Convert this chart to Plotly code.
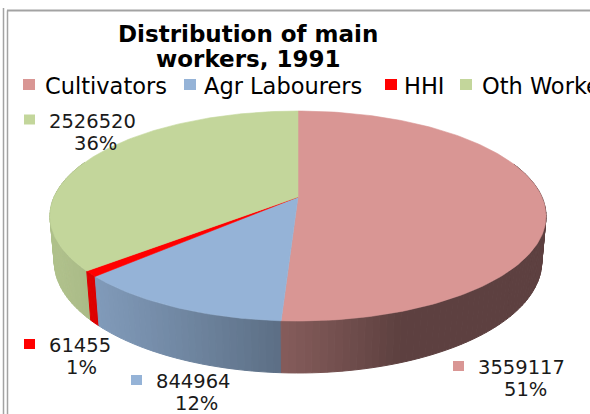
import numpy as np
import plotly.graph_objects as go

# ---- data -------------------------------------------------------------
categories = ["Cultivators", "Agr Labourers", "HHI", "Oth Workers"]
workers = [3559117, 844964, 61455, 2526520]
slice_colors = ["#D99694", "#95B3D7", "#FF0000", "#C3D69B"]
title_lines = ["Distribution of main", "workers, 1991"]

# ---- canvas -----------------------------------------------------------
W, H = 590, 414
FONT = "DejaVu Sans"

# ---- 3-D pie camera (pixel space) --------------------------------------
CX, CY = 298.0, 197.0        # screen position of the pie centre
FOCAL = 1225.0
TILT = np.radians(24.6)
DIST = 5.022
THICK = 0.2055               # disc thickness, in radii
SIN_T, COS_T = np.sin(TILT), np.cos(TILT)


def project(u, v, depth=0.0):
    """Perspective projection of a point on the unit disc (u right, v away)."""
    yc = v * SIN_T - depth * COS_T
    zc = DIST + v * COS_T + depth * SIN_T
    return CX + FOCAL * u / zc, CY - FOCAL * yc / zc


def hex_rgb(h):
    h = h.lstrip("#")
    return [int(h[i:i + 2], 16) for i in (0, 2, 4)]


def shade(h, k):
    r, g, b = (min(255, int(round(c * k))) for c in hex_rgb(h))
    return f"rgb({r},{g},{b})"


def side_light(theta):
    # ambient + diffuse light coming from the front-left
    return 0.43 + 0.47 * max(0.0, np.cos(theta - np.radians(250)))


total = float(sum(workers))
fractions = [w / total for w in workers]
bounds = np.concatenate([[0.0], np.cumsum(fractions)]) * 2 * np.pi

fig = go.Figure()

# ---- outer side wall, split into thin strips for the lighting gradient --
strips = []
for i, col in enumerate(slice_colors):
    t0, t1 = bounds[i], bounds[i + 1]
    n = max(2, int(np.ceil((t1 - t0) / np.radians(1.5))))
    ts = np.linspace(t0, t1, n + 1)
    for a, b in zip(ts[:-1], ts[1:]):
        mid = 0.5 * (a + b)
        if np.cos(mid) > 0.35:
            continue
        arc = np.linspace(a, b, 4)
        xt, yt = project(np.sin(arc), np.cos(arc), 0.0)
        xb, yb = project(np.sin(arc[::-1]), np.cos(arc[::-1]), THICK)
        xs = np.concatenate([xt, xb, xt[:1]])
        ys = np.concatenate([yt, yb, yt[:1]])
        strips.append((np.cos(mid), shade(col, side_light(mid)), xs, ys))

strips.sort(key=lambda s: -s[0])
for _, c, xs, ys in strips:
    fig.add_trace(go.Scatter(x=xs, y=ys, mode="lines", fill="toself",
                             fillcolor=c, line=dict(color=c, width=1),
                             hoverinfo="skip", showlegend=False))

# ---- top faces ----------------------------------------------------------
for i, (name, col) in enumerate(zip(categories, slice_colors)):
    t0, t1 = bounds[i], bounds[i + 1]
    n = max(3, int(np.ceil((t1 - t0) / np.radians(1.0))))
    arc = np.linspace(t0, t1, n + 1)
    xa, ya = project(np.sin(arc), np.cos(arc), 0.0)
    xs = np.concatenate([[CX], xa, [CX]])
    ys = np.concatenate([[CY], ya, [CY]])
    fig.add_trace(go.Scatter(x=xs, y=ys, mode="lines", fill="toself",
                             fillcolor=col, line=dict(color=col, width=0.6),
                             name=name, hoverinfo="name", showlegend=False))

annotations = []
shapes = []


def add_text(x, y, txt, size, xanchor="left", color="#000000", bold=False):
    if bold:
        txt = f"<b>{txt}</b>"
    annotations.append(dict(x=x, y=y, xref="x", yref="y", text=txt,
                            showarrow=False, xanchor=xanchor, yanchor="middle",
                            font=dict(family=FONT, size=size, color=color)))


def add_square(x0, y0, x1, y1, col):
    shapes.append(dict(type="rect", xref="x", yref="y", x0=x0, y0=y0,
                       x1=x1, y1=y1, fillcolor=col, line=dict(width=0)))


# ---- title --------------------------------------------------------------
add_text(248, 34, title_lines[0], 23, xanchor="center", bold=True)
add_text(248, 59, title_lines[1], 23, xanchor="center", bold=True)

# ---- legend row (runs past the right edge of the chart area) -------------
legend_square_x = [23, 184, 385, 460]
legend_text_x = [43, 202, 402, 480]
for name, col, sx, tx in zip(categories, slice_colors, legend_square_x, legend_text_x):
    add_square(sx, 79, sx + 12, 90, col)
    add_text(tx, 85.5, name, 22.5)

# ---- data labels (value + share) ----------------------------------------
label_left = [476, 154, 47, 47]          # left edge of the value text
label_mid = [525, 196, 81, 95]           # centre of the share text
label_y = [366, 380, 344, 119.5]         # middle of the value line
for val, frac, col, lx, mx, ly in zip(workers, fractions, slice_colors,
                                      label_left, label_mid, label_y):
    add_square(lx - 23, ly - 5, lx - 12, ly + 5, col)
    add_text(lx, ly + 1.5, f"{val}", 19.5, color="#1a1a1a")
    add_text(mx, ly + 23.5, f"{round(frac * 100):.0f}%", 19.5,
             xanchor="center", color="#1a1a1a")

# ---- chart-area border ---------------------------------------------------
border = "#a3a3a3"
shapes += [
    dict(type="line", xref="x", yref="y", x0=3.5, y0=8, x1=3.5, y1=H,
         line=dict(color=border, width=1.5)),
    dict(type="line", xref="x", yref="y", x0=7.5, y0=10.5, x1=7.5, y1=H,
         line=dict(color=border, width=1.5)),
    dict(type="line", xref="x", yref="y", x0=7, y0=10.5, x1=W, y1=10.5,
         line=dict(color=border, width=2)),
]

fig.update_layout(
    width=W, height=H,
    margin=dict(l=0, r=0, t=0, b=0),
    paper_bgcolor="white", plot_bgcolor="white",
    xaxis=dict(range=[0, W], visible=False, fixedrange=True),
    yaxis=dict(range=[H, 0], visible=False, fixedrange=True),
    annotations=annotations, shapes=shapes,
    showlegend=False,
)

fig.write_html("out.html")
